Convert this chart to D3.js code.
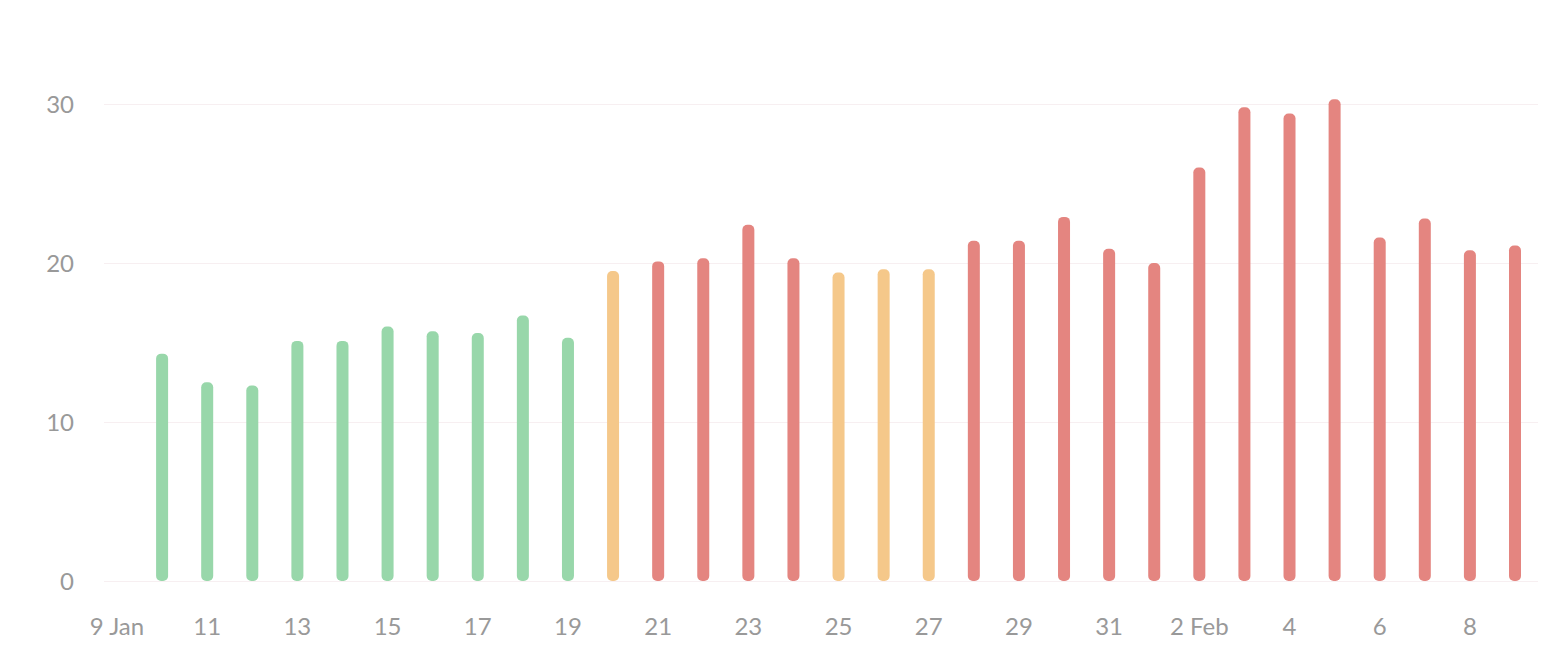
<!DOCTYPE html>
<html>
<head>
<meta charset="utf-8">
<script src="https://cdn.jsdelivr.net/npm/d3@7"></script>
<style>
  html, body { margin: 0; padding: 0; background: #fff; }
  svg text { font-family: Lato, "Noto Sans", sans-serif; fill: #999; font-size: 24px; }
</style>
</head>
<body>
<svg id="chart" width="1566" height="656"></svg>
<script>
// daily values, 10 Jan .. 9 Feb
var days = ["2021-01-10","2021-01-11","2021-01-12","2021-01-13","2021-01-14","2021-01-15","2021-01-16",
  "2021-01-17","2021-01-18","2021-01-19","2021-01-20","2021-01-21","2021-01-22","2021-01-23","2021-01-24",
  "2021-01-25","2021-01-26","2021-01-27","2021-01-28","2021-01-29","2021-01-30","2021-01-31","2021-02-01",
  "2021-02-02","2021-02-03","2021-02-04","2021-02-05","2021-02-06","2021-02-07","2021-02-08","2021-02-09"];
var values = [14.3, 12.5, 12.3, 15.1, 15.1, 16.0, 15.7, 15.6, 16.7, 15.3,
  19.5, 20.1, 20.3, 22.4, 20.3, 19.4, 19.6, 19.6, 21.4, 21.4, 22.9, 20.9, 20.0,
  26.0, 29.8, 29.4, 30.3, 21.6, 22.8, 20.8, 21.1];
var levels = ["ok","ok","ok","ok","ok","ok","ok","ok","ok","ok",
  "warn","bad","bad","bad","bad","warn","warn","warn","bad","bad","bad","bad","bad",
  "bad","bad","bad","bad","bad","bad","bad","bad"];
var yTicks = [0, 10, 20, 30];
var xTickDays = ["2021-01-09","2021-01-11","2021-01-13","2021-01-15","2021-01-17","2021-01-19","2021-01-21",
  "2021-01-23","2021-01-25","2021-01-27","2021-01-29","2021-01-31","2021-02-02","2021-02-04","2021-02-06","2021-02-08"];
var xTickLabels = ["9 Jan","11","13","15","17","19","21","23","25","27","29","31","2 Feb","4","6","8"];

var colors = { ok: "#98d7aa", warn: "#f5c88a", bad: "#e48580" };
var parse = d3.utcParse("%Y-%m-%d");

var svg = d3.select("#chart");
var x = d3.scaleUtc()
    .domain([parse("2021-01-09"), parse("2021-02-09")])
    .range([117, 1515]);
var y = d3.scaleLinear().domain([0, 30]).range([581, 104]);

// grid
svg.append("g").selectAll("line")
    .data(yTicks).enter().append("line")
    .attr("x1", 104).attr("x2", 1538)
    .attr("y1", function (d) { return y(d) + 0.5; })
    .attr("y2", function (d) { return y(d) + 0.5; })
    .attr("stroke", "#f7eff1").attr("stroke-width", 1);

// y labels
svg.append("g").selectAll("text")
    .data(yTicks).enter().append("text")
    .attr("x", 74).attr("y", function (d) { return y(d); })
    .attr("dy", "0.36em").attr("text-anchor", "end")
    .text(function (d) { return d; });

// x labels
svg.append("g").selectAll("text")
    .data(xTickDays).enter().append("text")
    .attr("x", function (d) { return x(parse(d)); })
    .attr("y", 635).attr("text-anchor", "middle")
    .text(function (d, i) { return xTickLabels[i]; });

// bars
var bw = 12;
svg.append("g").selectAll("rect")
    .data(values).enter().append("rect")
    .attr("x", function (d, i) { return x(parse(days[i])) - bw / 2; })
    .attr("y", function (d) { return y(d); })
    .attr("width", bw)
    .attr("height", function (d) { return y(0) - y(d); })
    .attr("rx", 5)
    .attr("fill", function (d, i) { return colors[levels[i]]; });
</script>
</body>
</html>
